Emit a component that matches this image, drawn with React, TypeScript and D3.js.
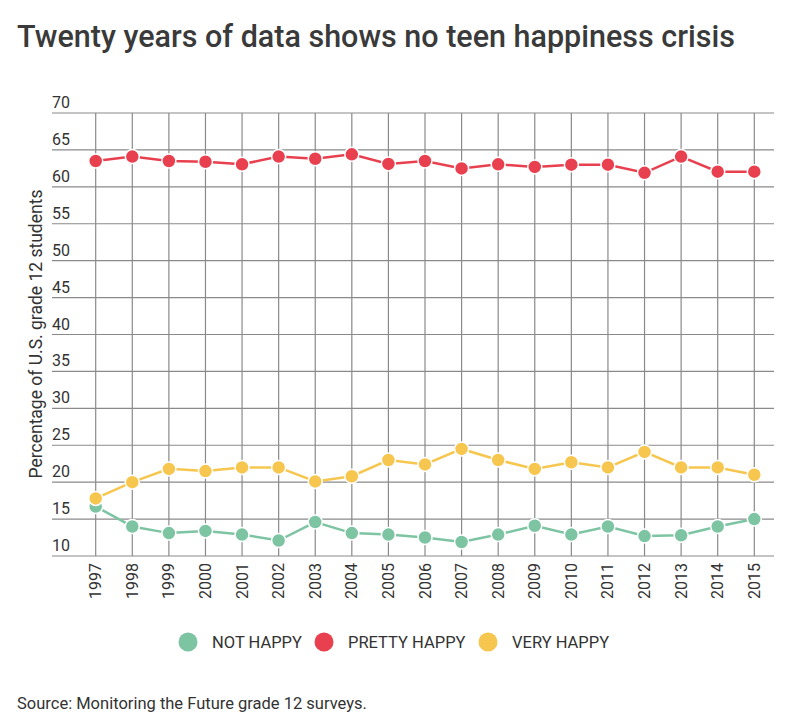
import React from "react";
import * as d3 from "d3";

const years = [1997, 1998, 1999, 2000, 2001, 2002, 2003, 2004, 2005, 2006, 2007, 2008, 2009, 2010, 2011, 2012, 2013, 2014, 2015];
const notHappy = [16.7, 14.0, 13.1, 13.4, 12.9, 12.1, 14.6, 13.1, 12.9, 12.5, 11.9, 12.9, 14.1, 12.9, 14.0, 12.7, 12.8, 14.0, 15.0];
const prettyHappy = [63.5, 64.1, 63.5, 63.4, 63.05, 64.1, 63.8, 64.4, 63.1, 63.5, 62.5, 63.05, 62.7, 63.0, 63.0, 61.9, 64.1, 62.05, 62.05];
const veryHappy = [17.8, 20.0, 21.8, 21.5, 22.0, 22.0, 20.1, 20.8, 23.0, 22.4, 24.5, 23.0, 21.8, 22.7, 22.0, 24.1, 22.0, 22.0, 21.0];
const yTicks = [10, 15, 20, 25, 30, 35, 40, 45, 50, 55, 60, 65, 70];

const seriesNames = ["NOT HAPPY", "PRETTY HAPPY", "VERY HAPPY"];
const seriesColors = ["#7dc4a3", "#e8404f", "#f6c64f"];
const seriesValues = [notHappy, prettyHappy, veryHappy];

const W = 800;
const H = 724;
const plotLeft = 52;
const plotRight = 774;
const plotTop = 113;
const plotBottom = 556;

const FONT = "Roboto, 'Noto Sans', sans-serif";

export default function App() {
  const x = d3.scaleLinear().domain([1997, 2015]).range([95.7, 754.3]);
  const y = d3.scaleLinear().domain([10, 70]).range([plotBottom, plotTop]);
  const line = d3
    .line<number>()
    .x((_, i) => x(years[i]))
    .y((d) => y(d));

  const legendX = [188, 324, 488];

  return (
    <svg
      width={W}
      height={H}
      style={{ position: "absolute", left: 0, top: 0, background: "#fff" }}
      fontFamily={FONT}
    >
      <rect width={W} height={H} fill="#fff" />
      <text x={17} y={47} fontSize={30.5} fontWeight={500} fill="#3a3a3a">
        Twenty years of data shows no teen happiness crisis
      </text>

      {/* horizontal grid + y labels */}
      {yTicks.map((t) => (
        <g key={t}>
          <line x1={plotLeft} x2={plotRight} y1={y(t)} y2={y(t)} stroke="#8a8a8a" strokeWidth={1.2} />
          <text x={plotLeft} y={y(t) - 5} fontSize={16} fill="#333">
            {t}
          </text>
        </g>
      ))}

      {/* vertical grid */}
      {years.map((yr) => (
        <line key={yr} x1={x(yr)} x2={x(yr)} y1={plotTop} y2={plotBottom} stroke="#8a8a8a" strokeWidth={1.2} />
      ))}

      {/* x labels */}
      {years.map((yr) => (
        <text
          key={yr}
          transform={`translate(${x(yr) + 5.5},563) rotate(-90)`}
          textAnchor="end"
          fontSize={16}
          fill="#333"
        >
          {yr}
        </text>
      ))}

      {/* y axis title */}
      <text
        transform={`translate(42,334) rotate(-90)`}
        textAnchor="middle"
        fontSize={17.5}
        fill="#333"
      >
        Percentage of U.S. grade 12 students
      </text>

      {/* series */}
      {seriesValues.map((vals, si) => (
        <g key={si}>
          <path d={line(vals) || ""} fill="none" stroke={seriesColors[si]} strokeWidth={2.5} />
          {vals.map((v, i) => (
            <circle
              key={i}
              cx={x(years[i])}
              cy={y(v)}
              r={7}
              fill={seriesColors[si]}
              stroke="#fff"
              strokeWidth={1.5}
            />
          ))}
        </g>
      ))}

      {/* legend */}
      {seriesNames.map((n, i) => (
        <g key={n}>
          <circle cx={legendX[i]} cy={642} r={9.5} fill={seriesColors[i]} />
          <text x={legendX[i] + 24} y={648} fontSize={16.5} fill="#333">
            {n}
          </text>
        </g>
      ))}

      <text x={17} y={709} fontSize={16.5} fill="#333">
        Source: Monitoring the Future grade 12 surveys.
      </text>
    </svg>
  );
}
